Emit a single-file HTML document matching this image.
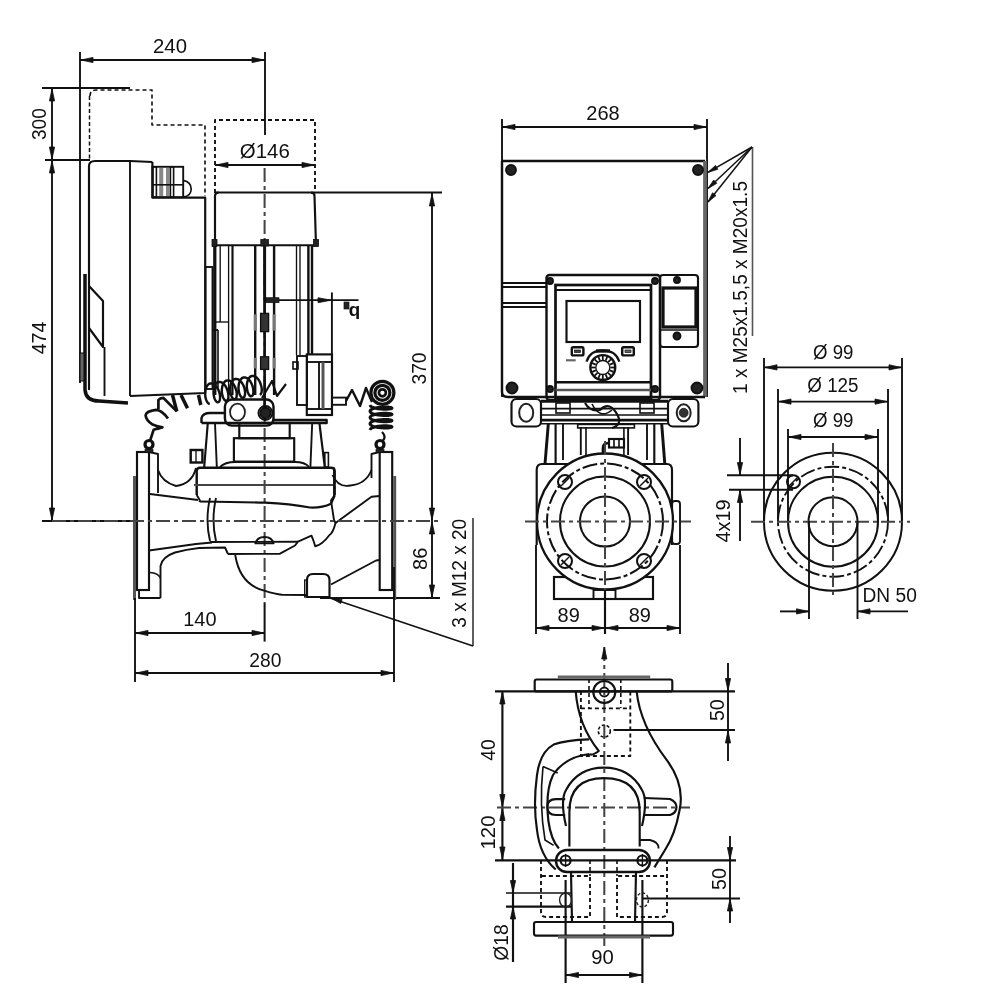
<!DOCTYPE html>
<html><head><meta charset="utf-8"><style>
html,body{margin:0;padding:0;background:#fff;width:1000px;height:1000px;overflow:hidden}
svg{display:block;will-change:transform}
text{font-family:"Liberation Sans",sans-serif}
</style></head><body>
<svg width="1000" height="1000" viewBox="0 0 1000 1000">
<rect width="1000" height="1000" fill="#fff"/>
<line x1="80" y1="52" x2="80" y2="383" stroke="#111" stroke-width="1.89"/>
<line x1="265" y1="52" x2="265" y2="135" stroke="#111" stroke-width="1.89"/>
<line x1="264.6" y1="168" x2="264.6" y2="603" stroke="#444" stroke-width="2.03" stroke-dasharray="14 4 4 4"/>
<line x1="264.6" y1="603" x2="264.6" y2="641.6" stroke="#111" stroke-width="2.03"/>
<line x1="80" y1="60" x2="265" y2="60" stroke="#111" stroke-width="1.89"/>
<polygon points="81.0,60.0 93.0,57.4 93.0,62.6" fill="#111" stroke="#111" stroke-width="0.8"/>
<polygon points="264.0,60.0 252.0,57.4 252.0,62.6" fill="#111" stroke="#111" stroke-width="0.8"/>
<text x="170" y="52.8" font-size="20" text-anchor="middle" fill="#111" textLength="33.9" lengthAdjust="spacingAndGlyphs">240</text>
<line x1="42" y1="88" x2="130" y2="88" stroke="#111" stroke-width="1.89"/>
<line x1="45" y1="160" x2="90" y2="160" stroke="#111" stroke-width="1.89"/>
<line x1="52" y1="88" x2="52" y2="160" stroke="#111" stroke-width="1.89"/>
<polygon points="52.0,89.0 49.4,101.0 54.6,101.0" fill="#111" stroke="#111" stroke-width="0.8"/>
<polygon points="52.0,159.0 49.4,147.0 54.6,147.0" fill="#111" stroke="#111" stroke-width="0.8"/>
<line x1="52" y1="160" x2="52" y2="521" stroke="#111" stroke-width="1.89"/>
<polygon points="52.0,161.0 49.4,173.0 54.6,173.0" fill="#111" stroke="#111" stroke-width="0.8"/>
<polygon points="52.0,520.0 49.4,508.0 54.6,508.0" fill="#111" stroke="#111" stroke-width="0.8"/>
<text x="45.8" y="124.1" font-size="20" text-anchor="middle" fill="#111" transform="rotate(-90 45.8 124.1)" textLength="31.8" lengthAdjust="spacingAndGlyphs">300</text>
<text x="45.8" y="338" font-size="20" text-anchor="middle" fill="#111" transform="rotate(-90 45.8 338)" textLength="32.6" lengthAdjust="spacingAndGlyphs">474</text>
<line x1="42" y1="521" x2="140" y2="521" stroke="#111" stroke-width="1.89"/>
<path d="M90,96 Q90,90 96,90 L152,90 L152,125 L205,125 L205,196" fill="none" stroke="#111" stroke-width="1.62" stroke-dasharray="4 3" stroke-linejoin="round"/>
<line x1="89.5" y1="96" x2="89.5" y2="160" stroke="#111" stroke-width="1.49" stroke-dasharray="4 2.5"/>
<path d="M215,193 L215,120 L315,120 L315,193" fill="none" stroke="#111" stroke-width="1.89" stroke-dasharray="4 3" stroke-linejoin="round"/>
<line x1="215" y1="165" x2="315" y2="165" stroke="#111" stroke-width="1.89"/>
<polygon points="216.0,165.0 228.0,162.4 228.0,167.6" fill="#111" stroke="#111" stroke-width="0.8"/>
<polygon points="314.0,165.0 302.0,162.4 302.0,167.6" fill="#111" stroke="#111" stroke-width="0.8"/>
<text x="264.8" y="158" font-size="20" text-anchor="middle" fill="#111" textLength="50" lengthAdjust="spacingAndGlyphs">&#216;146</text>
<line x1="215" y1="192.5" x2="442" y2="192.5" stroke="#111" stroke-width="1.89"/>
<path d="M215,245.3 L215,196 Q215,192.6 218.5,192.6" fill="none" stroke="#111" stroke-width="2.16" stroke-linejoin="round"/>
<path d="M316,245.3 L314.5,196 Q314.5,192.6 311,192.6" fill="none" stroke="#111" stroke-width="2.16" stroke-linejoin="round"/>
<line x1="215" y1="245.3" x2="315" y2="245.3" stroke="#111" stroke-width="1.89"/>
<rect x="212" y="239.5" width="5" height="7" rx="0" fill="#222" stroke="#111" stroke-width="0.81"/>
<rect x="313.5" y="239.5" width="5" height="7" rx="0" fill="#222" stroke="#111" stroke-width="0.81"/>
<rect x="260.8" y="239.5" width="7.6" height="6.5" rx="0" fill="#222" stroke="#111" stroke-width="0.81"/>
<line x1="214.8" y1="246" x2="214.8" y2="395" stroke="#111" stroke-width="3.24"/>
<line x1="220.2" y1="246" x2="220.2" y2="322" stroke="#111" stroke-width="1.35"/>
<line x1="228.6" y1="246" x2="228.6" y2="395" stroke="#111" stroke-width="1.35"/>
<line x1="232.5" y1="246" x2="232.5" y2="395" stroke="#111" stroke-width="2.16"/>
<line x1="255.2" y1="246" x2="255.2" y2="395" stroke="#111" stroke-width="2.43"/>
<line x1="274.1" y1="246" x2="274.1" y2="395" stroke="#111" stroke-width="2.43"/>
<line x1="296.5" y1="246" x2="296.5" y2="355" stroke="#111" stroke-width="1.35"/>
<line x1="300" y1="246" x2="300" y2="355" stroke="#111" stroke-width="1.35"/>
<line x1="308.4" y1="246" x2="308.4" y2="355" stroke="#111" stroke-width="2.43"/>
<line x1="312" y1="246" x2="312" y2="355" stroke="#111" stroke-width="2.43"/>
<line x1="216" y1="322" x2="229" y2="322" stroke="#111" stroke-width="1.35"/>
<line x1="264.6" y1="246" x2="264.6" y2="300" stroke="#111" stroke-width="2.97"/>
<line x1="264.6" y1="300" x2="264.6" y2="420" stroke="#111" stroke-width="2.70"/>
<rect x="260.6" y="313.4" width="8" height="18.200000000000045" rx="0" fill="#333" stroke="#111" stroke-width="1.35"/>
<rect x="253.7" y="314.4" width="3" height="16.200000000000045" rx="0" fill="#777" stroke="#111" stroke-width="0.00"/>
<rect x="272.6" y="314.4" width="3" height="16.200000000000045" rx="0" fill="#777" stroke="#111" stroke-width="0.00"/>
<rect x="260.6" y="356.8" width="8" height="12.599999999999966" rx="0" fill="#333" stroke="#111" stroke-width="1.35"/>
<rect x="253.7" y="357.8" width="3" height="10.599999999999966" rx="0" fill="#777" stroke="#111" stroke-width="0.00"/>
<rect x="272.6" y="357.8" width="3" height="10.599999999999966" rx="0" fill="#777" stroke="#111" stroke-width="0.00"/>
<rect x="205.5" y="267" width="7" height="122" rx="0" fill="none" stroke="#111" stroke-width="1.89"/>
<line x1="212.5" y1="330" x2="218" y2="330" stroke="#111" stroke-width="1.89"/>
<line x1="218" y1="330" x2="218" y2="389" stroke="#111" stroke-width="1.62"/>
<line x1="265" y1="300.2" x2="358.5" y2="300.2" stroke="#111" stroke-width="1.76"/>
<rect x="266" y="297.7" width="13" height="5" rx="0" fill="#222" stroke="#111" stroke-width="0.68"/>
<polygon points="331.0,300.2 318.0,297.7 318.0,302.7" fill="#111" stroke="#111" stroke-width="0.8"/>
<line x1="331.9" y1="292.4" x2="331.9" y2="415" stroke="#111" stroke-width="1.89"/>
<text x="354.5" y="306" font-size="19" text-anchor="middle" fill="#111" transform="rotate(180 354.5 306)" font-weight="bold">b</text>
<rect x="344" y="302" width="5" height="7" rx="0" fill="#222" stroke="#111" stroke-width="0.68"/>
<line x1="432" y1="193" x2="432" y2="521" stroke="#111" stroke-width="1.89"/>
<polygon points="432.0,194.0 429.4,206.0 434.6,206.0" fill="#111" stroke="#111" stroke-width="0.8"/>
<polygon points="432.0,520.0 429.4,508.0 434.6,508.0" fill="#111" stroke="#111" stroke-width="0.8"/>
<text x="426.3" y="368.5" font-size="20" text-anchor="middle" fill="#111" transform="rotate(-90 426.3 368.5)" textLength="32.1" lengthAdjust="spacingAndGlyphs">370</text>
<line x1="432" y1="521" x2="432" y2="598" stroke="#111" stroke-width="1.89"/>
<polygon points="432.0,522.0 429.4,534.0 434.6,534.0" fill="#111" stroke="#111" stroke-width="0.8"/>
<polygon points="432.0,597.0 429.4,585.0 434.6,585.0" fill="#111" stroke="#111" stroke-width="0.8"/>
<line x1="320" y1="598" x2="440" y2="598" stroke="#111" stroke-width="1.89"/>
<text x="427" y="558.8" font-size="20" text-anchor="middle" fill="#111" transform="rotate(-90 427 558.8)" textLength="22.3" lengthAdjust="spacingAndGlyphs">86</text>
<text x="466.3" y="573.3" font-size="20" text-anchor="middle" fill="#111" transform="rotate(-90 466.3 573.3)" textLength="108.7" lengthAdjust="spacingAndGlyphs">3 x M12 x 20</text>
<line x1="473" y1="518" x2="473" y2="646" stroke="#111" stroke-width="1.35"/>
<line x1="473" y1="646" x2="330" y2="598" stroke="#111" stroke-width="1.62"/>
<polygon points="331.0,598.0 342.1,599.5 340.7,603.5" fill="#111" stroke="#111" stroke-width="0.8"/>
<path d="M89,390 L89,166 Q89,161 95,161 L130,161 L152.4,162" fill="none" stroke="#111" stroke-width="2.16" stroke-linejoin="round"/>
<line x1="130" y1="161" x2="130" y2="396" stroke="#111" stroke-width="1.89"/>
<path d="M152.4,162 L152.4,197.6 L205.2,197.6 L205.2,393 L130,396" fill="none" stroke="#111" stroke-width="2.16" stroke-linejoin="round"/>
<rect x="152.4" y="166.8" width="30.8" height="30.4" rx="0" fill="none" stroke="#111" stroke-width="1.89"/>
<rect x="152.8" y="166.8" width="3.6" height="30.4" rx="0" fill="none" stroke="#111" stroke-width="1.62"/>
<rect x="170.4" y="166.8" width="3.2" height="30.4" rx="0" fill="none" stroke="#111" stroke-width="1.62"/>
<line x1="161.2" y1="168" x2="161.2" y2="196" stroke="#888" stroke-width="4.05"/>
<line x1="168" y1="168" x2="168" y2="196" stroke="#888" stroke-width="4.05"/>
<line x1="152.4" y1="184.8" x2="183.2" y2="184.8" stroke="#111" stroke-width="1.62"/>
<path d="M183.2,180.4 Q191.2,182 191.2,189 Q191.2,196 183.2,197" fill="none" stroke="#111" stroke-width="1.62" stroke-linejoin="round"/>
<path d="M85,274 L85,390 Q86,401 99,401 L128,403" fill="none" stroke="#111" stroke-width="3.51" stroke-linejoin="round"/>
<path d="M89,286 L103,301 L103,347 L89,328" fill="none" stroke="#111" stroke-width="2.16" stroke-linejoin="round"/>
<line x1="104.5" y1="347" x2="104.5" y2="396" stroke="#111" stroke-width="1.89"/>
<line x1="89" y1="328" x2="89" y2="390" stroke="#111" stroke-width="1.62"/>
<rect x="80" y="353" width="4" height="28" rx="0" fill="#666" stroke="#111" stroke-width="1.08"/>
<rect x="306.8" y="354.4" width="25.2" height="60.6" rx="0" fill="none" stroke="#111" stroke-width="2.16"/>
<line x1="306.8" y1="362" x2="332" y2="362" stroke="#111" stroke-width="1.89"/>
<line x1="306.8" y1="409" x2="332" y2="409" stroke="#111" stroke-width="1.89"/>
<line x1="319" y1="362" x2="319" y2="409" stroke="#111" stroke-width="1.89"/>
<line x1="323" y1="362" x2="323" y2="409" stroke="#555" stroke-width="2.97"/>
<rect x="297" y="356" width="10" height="49" rx="0" fill="none" stroke="#111" stroke-width="1.89"/>
<rect x="293" y="362" width="5" height="7" rx="0" fill="none" stroke="#111" stroke-width="1.62"/>
<rect x="332" y="397.6" width="14" height="7.2" rx="0" fill="none" stroke="#111" stroke-width="1.89"/>
<path d="M201.5,423 L201.5,418 Q203,413 210,413 L225,413 M273.5,420 L326.6,420 L326.6,423 L201.5,423" fill="none" stroke="#111" stroke-width="2.43" stroke-linejoin="round"/>
<rect x="224.9" y="399.5" width="48.6" height="26.1" rx="7" fill="none" stroke="#111" stroke-width="2.43"/>
<ellipse cx="237.5" cy="412.1" rx="7.5" ry="8.5" fill="none" stroke="#222" stroke-width="1.8"/>
<circle cx="265.4" cy="413" r="7" fill="none" stroke="#111" stroke-width="1.89"/>
<circle cx="265.4" cy="413" r="5.2" fill="#222" stroke="#111" stroke-width="1.89"/>
<line x1="207.8" y1="423" x2="204.2" y2="467" stroke="#111" stroke-width="2.16"/>
<line x1="215" y1="423" x2="216.8" y2="467" stroke="#111" stroke-width="1.89"/>
<line x1="312.2" y1="423" x2="310.4" y2="467" stroke="#111" stroke-width="1.89"/>
<line x1="319.4" y1="423" x2="324.8" y2="467" stroke="#111" stroke-width="2.16"/>
<rect x="239.3" y="423" width="50.4" height="15.2" rx="0" fill="none" stroke="#111" stroke-width="2.16"/>
<rect x="233.9" y="438.2" width="60.3" height="23.4" rx="0" fill="none" stroke="#111" stroke-width="2.16"/>
<path d="M220,467 Q225,462 235,462 L295,462 Q305,462 309,467" fill="none" stroke="#111" stroke-width="1.89" stroke-linejoin="round"/>
<rect x="190.7" y="450" width="11.7" height="12.5" rx="0" fill="none" stroke="#111" stroke-width="2.43"/>
<line x1="196" y1="450" x2="196" y2="462" stroke="#111" stroke-width="1.35"/>
<rect x="324.8" y="452.6" width="3.6" height="14.4" rx="0" fill="none" stroke="#111" stroke-width="1.62"/>
<path d="M196.7,495 L196.7,471 Q196.7,467.7 200,467.7 L331,467.7 Q334.7,467.7 334.7,471 L334.7,495.5" fill="none" stroke="#111" stroke-width="2.43" stroke-linejoin="round"/>
<path d="M196.7,495 L199.7,500 L199.7,502" fill="none" stroke="#111" stroke-width="1.89" stroke-linejoin="round"/>
<line x1="194" y1="485" x2="336" y2="485" stroke="#444" stroke-width="1.89"/>
<path d="M210,498 Q205,520 210,541" fill="none" stroke="#111" stroke-width="1.89" stroke-linejoin="round"/>
<path d="M216,498 Q211,520 216,541" fill="none" stroke="#111" stroke-width="1.89" stroke-linejoin="round"/>
<path d="M199.7,501.5 Q240,502 265,502.7 Q290,504 310,507.5 Q322,508 331,503.7 L334.7,495.5" fill="none" stroke="#111" stroke-width="2.16" stroke-linejoin="round"/>
<path d="M210,542 L298,541.7" fill="none" stroke="#111" stroke-width="1.89" stroke-linejoin="round"/>
<rect x="137" y="452" width="12" height="138" rx="0" fill="none" stroke="#111" stroke-width="2.16"/>
<line x1="134.5" y1="476" x2="134.5" y2="600" stroke="#555" stroke-width="2.97"/>
<path d="M149,452 L158,454 L158,493" fill="none" stroke="#111" stroke-width="1.89" stroke-linejoin="round"/>
<line x1="149" y1="493" x2="149" y2="590" stroke="#111" stroke-width="1.89"/>
<path d="M139,589.5 L139,598 L160.5,598" fill="none" stroke="#111" stroke-width="1.89" stroke-linejoin="round"/>
<path d="M158,470 Q162,482 176,486 Q192,484 196,468" fill="none" stroke="#111" stroke-width="1.89" stroke-linejoin="round"/>
<path d="M150,494 L198,500" fill="none" stroke="#111" stroke-width="1.89" stroke-linejoin="round"/>
<path d="M149,550.5 L196,544 L212,542.5" fill="none" stroke="#111" stroke-width="1.89" stroke-linejoin="round"/>
<path d="M160.5,598 L160.5,566 Q162,557 175,552.5 Q186,549.5 199,548 L225,547.5 L228,554" fill="none" stroke="#111" stroke-width="1.89" stroke-linejoin="round"/>
<path d="M235.2,555 Q240,585 265,590.9 Q275,594 282,594.8 L307,595" fill="none" stroke="#111" stroke-width="1.89" stroke-linejoin="round"/>
<path d="M150,572.5 Q158,573 160.5,578" fill="none" stroke="#111" stroke-width="1.62" stroke-linejoin="round"/>
<rect x="379.7" y="452" width="12.5" height="138" rx="0" fill="none" stroke="#111" stroke-width="2.16"/>
<line x1="394.7" y1="476" x2="394.7" y2="600" stroke="#555" stroke-width="2.97"/>
<path d="M379.7,452 L371.5,454 L371.5,478" fill="none" stroke="#111" stroke-width="1.89" stroke-linejoin="round"/>
<path d="M332.5,475 Q338,488 350.5,485.5 Q366,484 371.5,470" fill="none" stroke="#111" stroke-width="1.89" stroke-linejoin="round"/>
<path d="M335.5,523 L371.5,496.7 L379.7,496" fill="none" stroke="#111" stroke-width="1.89" stroke-linejoin="round"/>
<path d="M331,584.5 L376,560.5 L379.7,560" fill="none" stroke="#111" stroke-width="1.89" stroke-linejoin="round"/>
<path d="M334,467.5 L334,496 L331,500.5 L334,520 L335.5,523 Q333,533 329.5,535 Q322,545 315.2,546.2 L313.8,541.7 L311.5,535.7 L298,541.7 L295,545.5 L280,553.7 L228,554" fill="none" stroke="#111" stroke-width="1.89" stroke-linejoin="round"/>
<line x1="135" y1="598" x2="135" y2="682" stroke="#111" stroke-width="1.89"/>
<line x1="394" y1="567" x2="394" y2="682" stroke="#111" stroke-width="1.89"/>
<line x1="135" y1="633" x2="265" y2="633" stroke="#111" stroke-width="1.89"/>
<polygon points="136.0,633.0 148.0,630.4 148.0,635.6" fill="#111" stroke="#111" stroke-width="0.8"/>
<polygon points="264.0,633.0 252.0,630.4 252.0,635.6" fill="#111" stroke="#111" stroke-width="0.8"/>
<text x="199.9" y="626.4" font-size="20" text-anchor="middle" fill="#111" textLength="33.3" lengthAdjust="spacingAndGlyphs">140</text>
<line x1="135" y1="673" x2="394" y2="673" stroke="#111" stroke-width="1.89"/>
<polygon points="136.0,673.0 148.0,670.4 148.0,675.6" fill="#111" stroke="#111" stroke-width="0.8"/>
<polygon points="393.0,673.0 381.0,670.4 381.0,675.6" fill="#111" stroke="#111" stroke-width="0.8"/>
<text x="265.3" y="666.6" font-size="20" text-anchor="middle" fill="#111" textLength="32.1" lengthAdjust="spacingAndGlyphs">280</text>
<path d="M307,597 L307,580 Q307,574 313,574 L323,574 Q329.5,574 329.5,580 L329.5,597 Z" fill="none" stroke="#111" stroke-width="2.16" stroke-linejoin="round"/>
<rect x="304.7" y="580" width="2.3" height="17" rx="0" fill="none" stroke="#111" stroke-width="1.35"/>
<line x1="52" y1="521" x2="440" y2="521" stroke="#444" stroke-width="2.03" stroke-dasharray="14 4 4 4"/>
<path d="M255.4,543.4 Q257,537 264.5,537 Q272,537 273.6,543.4 Z" fill="none" stroke="#111" stroke-width="1.89" stroke-linejoin="round"/>
<path d="M149.2,443.4 L153.6,429.8 Q160,428 162.4,427.4 Q156,426 152,424.2 Q146,420 145.6,415.4 Q146,411 156,409.8 Q162,410 168,418.6" fill="none" stroke="#111" stroke-width="2.70" stroke-linejoin="round"/>
<path d="M158.4,409 L158.4,400 Q160,397.8 163.2,397.8 L176.8,411.4" fill="none" stroke="#111" stroke-width="2.70" stroke-linejoin="round"/>
<line x1="172.5" y1="395" x2="176.8" y2="411.4" stroke="#111" stroke-width="3.51"/>
<line x1="181" y1="395" x2="187.5" y2="408.2" stroke="#111" stroke-width="3.51"/>
<line x1="198.5" y1="395" x2="200.8" y2="405" stroke="#111" stroke-width="3.51"/>
<circle cx="149" cy="444.5" r="4" fill="#fff" stroke="#111" stroke-width="3.24"/>
<rect x="145" y="449.5" width="8" height="3" rx="0" fill="#222" stroke="#111" stroke-width="0.68"/>
<polyline points="209.8,403.8 208.8,403.7 207.8,402.8 206.8,401.4 206.0,399.4 205.4,397.1 205.2,394.5 205.2,391.9 205.6,389.3 206.4,387.1 207.5,385.3 208.8,384.0 210.4,383.4 212.1,383.5 213.8,384.2 215.4,385.5 216.9,387.3 218.2,389.5 219.2,392.0 219.8,394.5 220.1,396.9 220.0,399.0 219.6,400.7 219.0,401.8 218.1,402.3 217.1,402.2 216.1,401.3 215.1,399.9 214.3,397.9 213.8,395.6 213.5,393.0 213.6,390.4 214.0,387.8 214.7,385.6 215.8,383.8 217.2,382.5 218.7,381.9 220.4,382.0 222.1,382.7 223.8,384.0 225.3,385.8 226.5,388.0 227.5,390.5 228.1,393.0 228.4,395.4 228.4,397.5 228.0,399.2 227.3,400.3 226.4,400.8 225.5,400.7 224.4,399.8 223.5,398.4 222.7,396.4 222.1,394.1 221.8,391.5 221.9,388.9 222.3,386.3 223.1,384.1 224.1,382.3 225.5,381.0 227.1,380.4 228.7,380.5 230.5,381.2 232.1,382.5 233.6,384.3 234.9,386.5 235.8,389.0 236.5,391.5 236.8,393.9 236.7,396.0 236.3,397.7 235.6,398.8 234.8,399.3 233.8,399.2 232.8,398.3 231.8,396.9 231.0,394.9 230.4,392.6 230.2,390.0 230.2,387.4 230.6,384.8 231.4,382.6 232.5,380.8 233.8,379.5 235.4,378.9 237.1,379.0 238.8,379.7 240.4,381.0 241.9,382.8 243.2,385.0 244.2,387.5 244.8,390.0 245.1,392.4 245.0,394.5 244.6,396.2 244.0,397.3 243.1,397.8 242.1,397.7 241.1,396.8 240.1,395.4 239.3,393.4 238.8,391.1 238.5,388.5 238.6,385.9 239.0,383.3 239.7,381.1 240.8,379.3 242.2,378.0 243.7,377.4 245.4,377.5 247.1,378.2 248.8,379.5 250.3,381.3 251.5,383.5 252.5,386.0 253.1,388.5 253.4,390.9 253.4,393.0 253.0,394.7 252.3,395.8 251.4,396.3 250.5,396.2 249.4,395.3 248.5,393.9 247.7,391.9 247.1,389.6 246.8,387.0 246.9,384.4 247.3,381.8 248.1,379.6 249.1,377.8 250.5,376.5 252.1,375.9 253.7,376.0 255.5,376.7 257.1,378.0 258.6,379.8 259.9,382.0 260.8,384.5 261.5,387.0 261.8,389.4 261.7,391.5 261.3,393.2 260.6,394.3 259.8,394.8" fill="none" stroke="#111" stroke-width="2.43" stroke-linejoin="round"/>
<path d="M262,398 L272,381 L277,396 L286,384" fill="none" stroke="#111" stroke-width="2.16" stroke-linejoin="round"/>
<path d="M346,401 L352,390 L360,406 L366,388 L372,402" fill="none" stroke="#111" stroke-width="2.43" stroke-linejoin="round"/>
<circle cx="382.4" cy="392.8" r="11.5" fill="none" stroke="#111" stroke-width="3.24"/>
<circle cx="382.4" cy="392.8" r="7.5" fill="none" stroke="#111" stroke-width="3.24"/>
<circle cx="382.4" cy="392.8" r="3.5" fill="#fff" stroke="#111" stroke-width="2.70"/>
<polyline points="370.0,405.0 370.4,405.9 371.5,406.8 373.2,407.5 375.5,408.2 378.2,408.7 381.0,409.1 383.8,409.2 386.5,409.2 388.8,409.1 390.5,408.9 391.6,408.5 392.0,408.1 391.6,407.7 390.5,407.4 388.8,407.1 386.5,407.0 383.8,407.0 381.0,407.2 378.2,407.5 375.5,408.0 373.2,408.7 371.5,409.5 370.4,410.3 370.0,411.2 370.4,412.2 371.5,413.0 373.2,413.8 375.5,414.5 378.2,415.0 381.0,415.3 383.8,415.5 386.5,415.5 388.8,415.4 390.5,415.1 391.6,414.8 392.0,414.4 391.6,414.0 390.5,413.6 388.8,413.4 386.5,413.3 383.8,413.3 381.0,413.4 378.2,413.8 375.5,414.3 373.2,415.0 371.5,415.7 370.4,416.6 370.0,417.5 370.4,418.4 371.5,419.3 373.2,420.0 375.5,420.7 378.2,421.2 381.0,421.6 383.8,421.7 386.5,421.7 388.8,421.6 390.5,421.4 391.6,421.0 392.0,420.6 391.6,420.2 390.5,419.9 388.8,419.6 386.5,419.5 383.8,419.5 381.0,419.7 378.2,420.0 375.5,420.5 373.2,421.2 371.5,422.0 370.4,422.8 370.0,423.8 370.4,424.7 371.5,425.5 373.2,426.3 375.5,427.0 378.2,427.5 381.0,427.8 383.8,428.0 386.5,428.0 388.8,427.9 390.5,427.6 391.6,427.3 392.0,426.9 391.6,426.5 390.5,426.1 388.8,425.9 386.5,425.8 383.8,425.8 381.0,425.9 378.2,426.3 375.5,426.8 373.2,427.5 371.5,428.2 370.4,429.1 370.0,430.0" fill="none" stroke="#111" stroke-width="2.97" stroke-linejoin="round"/>
<path d="M382,432 Q388,438 380,443" fill="none" stroke="#111" stroke-width="2.16" stroke-linejoin="round"/>
<circle cx="380" cy="444.5" r="4" fill="#fff" stroke="#111" stroke-width="3.24"/>
<rect x="376" y="449.5" width="8" height="3" rx="0" fill="#222" stroke="#111" stroke-width="0.68"/>
<line x1="502" y1="119" x2="502" y2="397" stroke="#111" stroke-width="1.89"/>
<line x1="707" y1="119" x2="707" y2="397" stroke="#111" stroke-width="1.89"/>
<line x1="502" y1="127" x2="707" y2="127" stroke="#111" stroke-width="1.89"/>
<polygon points="503.0,127.0 515.0,124.4 515.0,129.6" fill="#111" stroke="#111" stroke-width="0.8"/>
<polygon points="706.0,127.0 694.0,124.4 694.0,129.6" fill="#111" stroke="#111" stroke-width="0.8"/>
<text x="603" y="119.8" font-size="20" text-anchor="middle" fill="#111" textLength="33.4" lengthAdjust="spacingAndGlyphs">268</text>
<line x1="502" y1="161" x2="705" y2="161" stroke="#111" stroke-width="2.70"/>
<line x1="705" y1="161" x2="705" y2="397" stroke="#666" stroke-width="3.78"/>
<path d="M502,161 L502,392 Q502,397 508,397 L705,397" fill="none" stroke="#111" stroke-width="2.43" stroke-linejoin="round"/>
<circle cx="511" cy="170" r="5" fill="#222" stroke="#111" stroke-width="1.89"/>
<circle cx="698" cy="170" r="5" fill="#222" stroke="#111" stroke-width="1.89"/>
<circle cx="512" cy="388" r="5.5" fill="#222" stroke="#111" stroke-width="1.89"/>
<circle cx="697" cy="388" r="5.5" fill="#222" stroke="#111" stroke-width="1.89"/>
<line x1="752.5" y1="147" x2="752.5" y2="336" stroke="#555" stroke-width="1.62"/>
<line x1="752" y1="147" x2="708" y2="172.3" stroke="#111" stroke-width="1.49"/>
<polygon points="708.0,172.3 715.5,165.4 717.8,169.3" fill="#111" stroke="#111" stroke-width="0.8"/>
<line x1="752" y1="147" x2="708" y2="188.5" stroke="#111" stroke-width="1.49"/>
<polygon points="708.0,188.5 713.7,180.0 716.8,183.3" fill="#111" stroke="#111" stroke-width="0.8"/>
<line x1="752" y1="147" x2="708" y2="202" stroke="#111" stroke-width="1.49"/>
<polygon points="708.0,202.0 712.5,192.8 716.0,195.6" fill="#111" stroke="#111" stroke-width="0.8"/>
<text x="747" y="287.5" font-size="20" text-anchor="middle" fill="#111" transform="rotate(-90 747 287.5)" textLength="213.0" lengthAdjust="spacingAndGlyphs">1 x M25x1.5,5 x M20x1.5</text>
<line x1="502" y1="283" x2="546" y2="283" stroke="#111" stroke-width="1.89"/>
<line x1="502" y1="287" x2="546" y2="287" stroke="#111" stroke-width="1.89"/>
<line x1="502" y1="303" x2="546" y2="303" stroke="#111" stroke-width="1.89"/>
<line x1="502" y1="307" x2="546" y2="307" stroke="#111" stroke-width="1.89"/>
<rect x="546.5" y="275" width="113.5" height="125" rx="3" fill="none" stroke="#111" stroke-width="2.43"/>
<rect x="555.5" y="285" width="95.5" height="114" rx="0" fill="none" stroke="#111" stroke-width="2.70"/>
<line x1="555.5" y1="290" x2="651" y2="290" stroke="#111" stroke-width="1.89"/>
<line x1="555.5" y1="382.3" x2="651" y2="382.3" stroke="#111" stroke-width="2.43"/>
<line x1="555.5" y1="390" x2="651" y2="390" stroke="#555" stroke-width="2.43"/>
<circle cx="550" cy="281" r="3" fill="#222" stroke="#111" stroke-width="1.89"/>
<circle cx="655" cy="281" r="3" fill="#222" stroke="#111" stroke-width="1.89"/>
<circle cx="550" cy="389" r="3" fill="#222" stroke="#111" stroke-width="1.89"/>
<circle cx="655" cy="389" r="3" fill="#222" stroke="#111" stroke-width="1.89"/>
<rect x="566.5" y="301" width="73.5" height="41" rx="0" fill="none" stroke="#111" stroke-width="2.16"/>
<rect x="571.8" y="347.2" width="11.6" height="8.2" rx="1.5" fill="none" stroke="#111" stroke-width="2.43"/>
<rect x="574.5" y="350" width="6" height="2.6" rx="0" fill="#444" stroke="#111" stroke-width="0.68"/>
<rect x="622.2" y="347.2" width="11.6" height="8.2" rx="1.5" fill="none" stroke="#111" stroke-width="2.43"/>
<rect x="625" y="350" width="6" height="2.6" rx="0" fill="#666" stroke="#111" stroke-width="0.68"/>
<line x1="566" y1="360.3" x2="575.7" y2="360.3" stroke="#666" stroke-width="2.16"/>
<circle cx="602.8" cy="367.5" r="12.4" fill="none" stroke="#111" stroke-width="2.43"/>
<circle cx="602.8" cy="367.5" r="7" fill="none" stroke="#111" stroke-width="1.35"/>
<line x1="610.3" y1="367.5" x2="614.3" y2="367.5" stroke="#111" stroke-width="1.76"/>
<line x1="609.7290964938346" y1="370.3701257427382" x2="613.4246146238797" y2="371.90085947219853" stroke="#111" stroke-width="1.76"/>
<line x1="608.103300858899" y1="372.8033008588991" x2="610.9317279836453" y2="375.6317279836453" stroke="#111" stroke-width="1.76"/>
<line x1="605.6701257427382" y1="374.42909649383466" x2="607.2008594721985" y2="378.1246146238798" stroke="#111" stroke-width="1.76"/>
<line x1="602.8" y1="375.0" x2="602.8" y2="379.0" stroke="#111" stroke-width="1.76"/>
<line x1="599.9298742572618" y1="374.42909649383466" x2="598.3991405278015" y2="378.1246146238798" stroke="#111" stroke-width="1.76"/>
<line x1="597.4966991411009" y1="372.8033008588991" x2="594.6682720163546" y2="375.6317279836453" stroke="#111" stroke-width="1.76"/>
<line x1="595.8709035061653" y1="370.3701257427382" x2="592.1753853761202" y2="371.90085947219853" stroke="#111" stroke-width="1.76"/>
<line x1="595.3" y1="367.5" x2="591.3" y2="367.5" stroke="#111" stroke-width="1.76"/>
<line x1="595.8709035061653" y1="364.6298742572618" x2="592.1753853761202" y2="363.09914052780147" stroke="#111" stroke-width="1.76"/>
<line x1="597.4966991411009" y1="362.1966991411009" x2="594.6682720163546" y2="359.3682720163547" stroke="#111" stroke-width="1.76"/>
<line x1="599.9298742572618" y1="360.57090350616534" x2="598.3991405278014" y2="356.8753853761202" stroke="#111" stroke-width="1.76"/>
<line x1="602.8" y1="360.0" x2="602.8" y2="356.0" stroke="#111" stroke-width="1.76"/>
<line x1="605.6701257427382" y1="360.57090350616534" x2="607.2008594721985" y2="356.8753853761202" stroke="#111" stroke-width="1.76"/>
<line x1="608.103300858899" y1="362.1966991411009" x2="610.9317279836453" y2="359.3682720163547" stroke="#111" stroke-width="1.76"/>
<line x1="609.7290964938346" y1="364.6298742572618" x2="613.4246146238797" y2="363.09914052780147" stroke="#111" stroke-width="1.76"/>
<path d="M586.5,361.6 Q590,350.4 602.8,350.4 Q615.6,350.4 619.4,361.6" fill="none" stroke="#111" stroke-width="2.16" stroke-linejoin="round"/>
<line x1="596" y1="351" x2="610" y2="351" stroke="#111" stroke-width="3.38"/>
<rect x="660" y="275" width="38" height="72" rx="3" fill="none" stroke="#111" stroke-width="2.16"/>
<rect x="663" y="288" width="33" height="39" rx="0" fill="none" stroke="#111" stroke-width="3.24"/>
<circle cx="677" cy="280" r="3" fill="#222" stroke="#111" stroke-width="1.89"/>
<circle cx="677" cy="336" r="3.5" fill="#222" stroke="#111" stroke-width="1.89"/>
<line x1="660" y1="330" x2="698" y2="330" stroke="#111" stroke-width="1.62"/>
<line x1="541" y1="401.3" x2="668" y2="401.3" stroke="#111" stroke-width="2.97"/>
<line x1="541" y1="408.6" x2="668" y2="408.6" stroke="#111" stroke-width="1.62"/>
<line x1="541" y1="415" x2="668" y2="415" stroke="#111" stroke-width="1.62"/>
<line x1="541" y1="420.2" x2="668" y2="420.2" stroke="#111" stroke-width="2.70"/>
<line x1="541" y1="423.8" x2="668" y2="423.8" stroke="#111" stroke-width="1.62"/>
<rect x="511.5" y="399" width="29.5" height="27.5" rx="5" fill="none" stroke="#111" stroke-width="2.16"/>
<ellipse cx="526.2" cy="412.8" rx="7" ry="9" fill="none" stroke="#222" stroke-width="2"/>
<rect x="668" y="399" width="30.4" height="27.5" rx="5" fill="none" stroke="#111" stroke-width="2.16"/>
<ellipse cx="683.7" cy="412.8" rx="7" ry="8.5" fill="none" stroke="#222" stroke-width="2"/>
<circle cx="683.7" cy="412.8" r="4.5" fill="#333" stroke="#111" stroke-width="0.68"/>
<rect x="556" y="403" width="14" height="10" rx="0" fill="none" stroke="#111" stroke-width="1.62"/>
<rect x="640" y="403" width="14" height="10" rx="0" fill="none" stroke="#111" stroke-width="1.62"/>
<path d="M585,403 Q590,412 600,410 Q610,400 618,416 Q622,425 612,428" fill="none" stroke="#111" stroke-width="2.16" stroke-linejoin="round"/>
<path d="M592,404 Q600,420 612,410" fill="none" stroke="#111" stroke-width="1.62" stroke-linejoin="round"/>
<line x1="548.3" y1="424" x2="545" y2="464" stroke="#111" stroke-width="2.97"/>
<line x1="555.6" y1="424" x2="555.6" y2="464" stroke="#111" stroke-width="2.16"/>
<line x1="563" y1="424" x2="563" y2="460" stroke="#111" stroke-width="1.89"/>
<line x1="647" y1="424" x2="647" y2="460" stroke="#111" stroke-width="1.89"/>
<line x1="654.3" y1="424" x2="654.3" y2="464" stroke="#111" stroke-width="2.16"/>
<line x1="661.7" y1="424" x2="664.8" y2="464" stroke="#111" stroke-width="2.97"/>
<rect x="577.7" y="424.4" width="56.7" height="3.5" rx="0" fill="none" stroke="#111" stroke-width="1.62"/>
<line x1="580.8" y1="427" x2="580.8" y2="455" stroke="#111" stroke-width="1.89"/>
<line x1="586" y1="427" x2="586" y2="455" stroke="#111" stroke-width="1.62"/>
<line x1="623.9" y1="427" x2="623.9" y2="455" stroke="#111" stroke-width="1.62"/>
<line x1="628.1" y1="427" x2="628.1" y2="455" stroke="#111" stroke-width="1.89"/>
<path d="M603,455 L603,448 Q603,443 609,443" fill="none" stroke="#111" stroke-width="2.70" stroke-linejoin="round"/>
<rect x="609" y="439" width="15" height="8.5" rx="0" fill="none" stroke="#111" stroke-width="2.16"/>
<line x1="614" y1="439" x2="614" y2="447.5" stroke="#111" stroke-width="1.62"/>
<line x1="619" y1="439" x2="619" y2="447.5" stroke="#111" stroke-width="1.62"/>
<path d="M536.7,545 L536.7,470 Q536.7,464 542,464 L667,464 Q672,464 672,470 L672,545" fill="none" stroke="#111" stroke-width="2.16" stroke-linejoin="round"/>
<rect x="672" y="501" width="8" height="43" rx="3" fill="none" stroke="#111" stroke-width="1.89"/>
<rect x="554" y="577" width="99" height="22" rx="0" fill="none" stroke="#111" stroke-width="2.16"/>
<rect x="593.5" y="590" width="22" height="9" rx="0" fill="none" stroke="#111" stroke-width="1.89"/>
<line x1="605" y1="590" x2="605" y2="634" stroke="#111" stroke-width="2.16"/>
<circle cx="605" cy="521.5" r="68" fill="#fff" stroke="#111" stroke-width="2.29"/>
<circle cx="605" cy="521.5" r="58" fill="none" stroke="#111" stroke-width="2.03" stroke-dasharray="15 3 4 3"/>
<circle cx="605" cy="521.5" r="45" fill="none" stroke="#111" stroke-width="2.03"/>
<circle cx="605" cy="521.5" r="25" fill="none" stroke="#111" stroke-width="2.03"/>
<circle cx="565" cy="482" r="7" fill="none" stroke="#111" stroke-width="2.03"/>
<line x1="561" y1="486" x2="569" y2="478" stroke="#111" stroke-width="1.35"/>
<circle cx="644" cy="482" r="7" fill="none" stroke="#111" stroke-width="2.03"/>
<line x1="640" y1="486" x2="648" y2="478" stroke="#111" stroke-width="1.35"/>
<circle cx="565" cy="561" r="7" fill="none" stroke="#111" stroke-width="2.03"/>
<line x1="561" y1="565" x2="569" y2="557" stroke="#111" stroke-width="1.35"/>
<circle cx="644" cy="561" r="7" fill="none" stroke="#111" stroke-width="2.03"/>
<line x1="640" y1="565" x2="648" y2="557" stroke="#111" stroke-width="1.35"/>
<line x1="525" y1="521.5" x2="691" y2="521.5" stroke="#444" stroke-width="2.03" stroke-dasharray="14 4 4 4"/>
<line x1="605" y1="441" x2="605" y2="590" stroke="#444" stroke-width="2.03" stroke-dasharray="14 4 4 4"/>
<line x1="536" y1="545" x2="536" y2="634" stroke="#111" stroke-width="1.89"/>
<line x1="680" y1="545" x2="680" y2="634" stroke="#111" stroke-width="1.89"/>
<line x1="536" y1="628" x2="680" y2="628" stroke="#111" stroke-width="1.89"/>
<polygon points="537.0,628.0 549.0,625.4 549.0,630.6" fill="#111" stroke="#111" stroke-width="0.8"/>
<polygon points="604.0,628.0 592.0,625.4 592.0,630.6" fill="#111" stroke="#111" stroke-width="0.8"/>
<polygon points="606.0,628.0 618.0,625.4 618.0,630.6" fill="#111" stroke="#111" stroke-width="0.8"/>
<polygon points="679.0,628.0 667.0,625.4 667.0,630.6" fill="#111" stroke="#111" stroke-width="0.8"/>
<text x="568.7" y="622.3" font-size="20" text-anchor="middle" fill="#111" textLength="22.2" lengthAdjust="spacingAndGlyphs">89</text>
<text x="639.8" y="622.3" font-size="20" text-anchor="middle" fill="#111" textLength="22.2" lengthAdjust="spacingAndGlyphs">89</text>
<circle cx="833" cy="521.7" r="69" fill="none" stroke="#111" stroke-width="2.03"/>
<circle cx="833" cy="521.7" r="55" fill="none" stroke="#111" stroke-width="1.89" stroke-dasharray="15 3 4 3"/>
<circle cx="833" cy="521.7" r="45" fill="none" stroke="#111" stroke-width="2.03"/>
<circle cx="833" cy="521.7" r="24.5" fill="none" stroke="#111" stroke-width="2.03"/>
<circle cx="793.5" cy="481.7" r="6.5" fill="none" stroke="#111" stroke-width="2.03"/>
<line x1="789" y1="486" x2="798" y2="477" stroke="#111" stroke-width="1.35"/>
<line x1="751" y1="521.7" x2="910" y2="521.7" stroke="#444" stroke-width="2.03" stroke-dasharray="14 4 4 4"/>
<line x1="833" y1="443" x2="833" y2="599" stroke="#444" stroke-width="2.03" stroke-dasharray="14 4 4 4"/>
<line x1="764" y1="358" x2="764" y2="521" stroke="#111" stroke-width="1.89"/>
<line x1="902" y1="358" x2="902" y2="521" stroke="#111" stroke-width="1.89"/>
<line x1="764" y1="367.4" x2="902" y2="367.4" stroke="#111" stroke-width="1.89"/>
<polygon points="765.0,367.4 777.0,364.8 777.0,370.0" fill="#111" stroke="#111" stroke-width="0.8"/>
<polygon points="901.0,367.4 889.0,364.8 889.0,370.0" fill="#111" stroke="#111" stroke-width="0.8"/>
<text x="833.2" y="358.7" font-size="20" text-anchor="middle" fill="#111" textLength="40.5" lengthAdjust="spacingAndGlyphs">&#216; 99</text>
<line x1="778" y1="389" x2="778" y2="521" stroke="#111" stroke-width="1.89"/>
<line x1="888" y1="389" x2="888" y2="521" stroke="#111" stroke-width="1.89"/>
<line x1="778" y1="401.6" x2="888" y2="401.6" stroke="#111" stroke-width="1.89"/>
<polygon points="779.0,401.6 791.0,399.0 791.0,404.2" fill="#111" stroke="#111" stroke-width="0.8"/>
<polygon points="887.0,401.6 875.0,399.0 875.0,404.2" fill="#111" stroke="#111" stroke-width="0.8"/>
<text x="832.9" y="391.7" font-size="20" text-anchor="middle" fill="#111" textLength="51.2" lengthAdjust="spacingAndGlyphs">&#216; 125</text>
<line x1="788" y1="429" x2="788" y2="521" stroke="#111" stroke-width="1.89"/>
<line x1="878" y1="429" x2="878" y2="521" stroke="#111" stroke-width="1.89"/>
<line x1="788" y1="437" x2="878" y2="437" stroke="#111" stroke-width="1.89"/>
<polygon points="789.0,437.0 801.0,434.4 801.0,439.6" fill="#111" stroke="#111" stroke-width="0.8"/>
<polygon points="877.0,437.0 865.0,434.4 865.0,439.6" fill="#111" stroke="#111" stroke-width="0.8"/>
<text x="833.2" y="426.9" font-size="20" text-anchor="middle" fill="#111" textLength="40.5" lengthAdjust="spacingAndGlyphs">&#216; 99</text>
<line x1="727" y1="475.3" x2="793" y2="475.3" stroke="#111" stroke-width="1.89"/>
<line x1="729" y1="489.7" x2="793" y2="489.7" stroke="#111" stroke-width="1.89"/>
<line x1="740" y1="438" x2="740" y2="475" stroke="#111" stroke-width="1.89"/>
<polygon points="740.0,474.5 737.4,462.5 742.6,462.5" fill="#111" stroke="#111" stroke-width="0.8"/>
<line x1="740" y1="490" x2="740" y2="541" stroke="#111" stroke-width="1.89"/>
<polygon points="740.0,490.5 737.4,502.5 742.6,502.5" fill="#111" stroke="#111" stroke-width="0.8"/>
<text x="729.9" y="521" font-size="20" text-anchor="middle" fill="#111" transform="rotate(-90 729.9 521)" textLength="43.2" lengthAdjust="spacingAndGlyphs">4x19</text>
<line x1="809" y1="521" x2="809" y2="619" stroke="#111" stroke-width="1.89"/>
<line x1="857.5" y1="521" x2="857.5" y2="619" stroke="#111" stroke-width="1.89"/>
<line x1="780" y1="611.4" x2="809" y2="611.4" stroke="#111" stroke-width="1.89"/>
<polygon points="808.5,611.4 796.5,608.8 796.5,614.0" fill="#111" stroke="#111" stroke-width="0.8"/>
<line x1="908" y1="611.4" x2="857.5" y2="611.4" stroke="#111" stroke-width="1.89"/>
<polygon points="858.0,611.4 870.0,608.8 870.0,614.0" fill="#111" stroke="#111" stroke-width="0.8"/>
<text x="862.5" y="601.8" font-size="20" text-anchor="start" fill="#111" textLength="54.3" lengthAdjust="spacingAndGlyphs">DN 50</text>
<line x1="604.3" y1="647" x2="604.3" y2="946" stroke="#444" stroke-width="2.03" stroke-dasharray="14 4 4 4"/>
<polygon points="604.3,647.0 601.7,659.0 606.9,659.0" fill="#111" stroke="#111" stroke-width="0.8"/>
<rect x="534.7" y="679.5" width="137.6" height="11.9" rx="2" fill="none" stroke="#111" stroke-width="2.16"/>
<line x1="557.8" y1="677" x2="650.2" y2="677" stroke="#666" stroke-width="3.24"/>
<line x1="495" y1="691.4" x2="735" y2="691.4" stroke="#111" stroke-width="2.16"/>
<circle cx="604.3" cy="692" r="11" fill="none" stroke="#111" stroke-width="2.16"/>
<circle cx="604.3" cy="692" r="4.5" fill="none" stroke="#111" stroke-width="1.89"/>
<path d="M580.9,691 L580.9,756 L630.3,756 L630.3,691" fill="none" stroke="#111" stroke-width="1.89" stroke-dasharray="4 3" stroke-linejoin="round"/>
<line x1="580.9" y1="708.4" x2="630.3" y2="708.4" stroke="#111" stroke-width="1.89" stroke-dasharray="4 3"/>
<line x1="620.8" y1="679" x2="620.8" y2="708" stroke="#111" stroke-width="1.62" stroke-dasharray="4 3"/>
<line x1="589" y1="679" x2="589" y2="708" stroke="#111" stroke-width="1.62" stroke-dasharray="4 3"/>
<circle cx="604.3" cy="731" r="6" fill="none" stroke="#111" stroke-width="1.62" stroke-dasharray="3 2"/>
<line x1="613.5" y1="730" x2="735" y2="730" stroke="#111" stroke-width="1.89"/>
<line x1="502.4" y1="691" x2="502.4" y2="860" stroke="#111" stroke-width="2.16"/>
<polygon points="502.4,692.0 499.8,704.0 505.0,704.0" fill="#111" stroke="#111" stroke-width="0.8"/>
<polygon points="502.4,806.5 499.8,794.5 505.0,794.5" fill="#111" stroke="#111" stroke-width="0.8"/>
<polygon points="502.4,808.5 499.8,820.5 505.0,820.5" fill="#111" stroke="#111" stroke-width="0.8"/>
<polygon points="502.4,859.0 499.8,847.0 505.0,847.0" fill="#111" stroke="#111" stroke-width="0.8"/>
<text x="495" y="750" font-size="20" text-anchor="middle" fill="#111" transform="rotate(-90 495 750)" textLength="21.5" lengthAdjust="spacingAndGlyphs">40</text>
<text x="495" y="832.5" font-size="20" text-anchor="middle" fill="#111" transform="rotate(-90 495 832.5)" textLength="34.0" lengthAdjust="spacingAndGlyphs">120</text>
<line x1="497" y1="807.6" x2="690" y2="807.6" stroke="#444" stroke-width="2.03" stroke-dasharray="14 4 4 4"/>
<line x1="495" y1="860.3" x2="736" y2="860.3" stroke="#111" stroke-width="2.16"/>
<line x1="728" y1="663" x2="728" y2="761" stroke="#111" stroke-width="1.89"/>
<polygon points="728.0,690.5 725.4,678.5 730.6,678.5" fill="#111" stroke="#111" stroke-width="0.8"/>
<polygon points="728.0,731.0 725.4,743.0 730.6,743.0" fill="#111" stroke="#111" stroke-width="0.8"/>
<text x="723.6" y="710.2" font-size="20" text-anchor="middle" fill="#111" transform="rotate(-90 723.6 710.2)" textLength="21.8" lengthAdjust="spacingAndGlyphs">50</text>
<line x1="730" y1="836" x2="730" y2="923" stroke="#111" stroke-width="1.89"/>
<polygon points="730.0,859.5 727.4,847.5 732.6,847.5" fill="#111" stroke="#111" stroke-width="0.8"/>
<polygon points="730.0,899.0 727.4,911.0 732.6,911.0" fill="#111" stroke="#111" stroke-width="0.8"/>
<line x1="643" y1="898.5" x2="740" y2="898.5" stroke="#111" stroke-width="1.89"/>
<text x="726" y="879" font-size="20" text-anchor="middle" fill="#111" transform="rotate(-90 726 879)" textLength="21.8" lengthAdjust="spacingAndGlyphs">50</text>
<line x1="513" y1="863" x2="513" y2="962" stroke="#111" stroke-width="2.16"/>
<polygon points="513.0,892.5 510.4,880.5 515.6,880.5" fill="#111" stroke="#111" stroke-width="0.8"/>
<polygon points="513.0,907.0 510.4,919.0 515.6,919.0" fill="#111" stroke="#111" stroke-width="0.8"/>
<line x1="506" y1="893" x2="571" y2="893" stroke="#111" stroke-width="1.62"/>
<line x1="506" y1="906.6" x2="571" y2="906.6" stroke="#111" stroke-width="2.43"/>
<text x="508" y="942.5" font-size="20" text-anchor="middle" fill="#111" transform="rotate(-90 508 942.5)" textLength="36.5" lengthAdjust="spacingAndGlyphs">&#216;18</text>
<line x1="565.6" y1="880" x2="565.6" y2="983" stroke="#111" stroke-width="2.16"/>
<line x1="642.4" y1="880" x2="642.4" y2="983" stroke="#111" stroke-width="2.16"/>
<line x1="565.6" y1="975" x2="642.4" y2="975" stroke="#111" stroke-width="1.89"/>
<polygon points="566.5,975.0 578.5,972.4 578.5,977.6" fill="#111" stroke="#111" stroke-width="0.8"/>
<polygon points="641.5,975.0 629.5,972.4 629.5,977.6" fill="#111" stroke="#111" stroke-width="0.8"/>
<text x="602.5" y="964" font-size="20" text-anchor="middle" fill="#111" textLength="22.5" lengthAdjust="spacingAndGlyphs">90</text>
<rect x="534" y="922" width="139" height="13.6" rx="2" fill="none" stroke="#111" stroke-width="2.16"/>
<line x1="558" y1="937" x2="650" y2="937" stroke="#666" stroke-width="3.24"/>
<path d="M541,860 L541,912 Q541,917 546,917 L590,917 L590,876 L541,876" fill="none" stroke="#111" stroke-width="1.89" stroke-dasharray="4 3" stroke-linejoin="round"/>
<path d="M667,860 L667,912 Q667,917 662,917 L617,917 L617,876 L667,876" fill="none" stroke="#111" stroke-width="1.89" stroke-dasharray="4 3" stroke-linejoin="round"/>
<line x1="590" y1="860" x2="590" y2="876" stroke="#111" stroke-width="1.62" stroke-dasharray="4 3"/>
<line x1="617" y1="860" x2="617" y2="876" stroke="#111" stroke-width="1.62" stroke-dasharray="4 3"/>
<line x1="571" y1="872" x2="572" y2="922" stroke="#111" stroke-width="2.16"/>
<line x1="636" y1="872" x2="635" y2="922" stroke="#111" stroke-width="2.16"/>
<ellipse cx="565.6" cy="900" rx="6" ry="7" fill="none" stroke="#222" stroke-width="1.4"/>
<ellipse cx="642.4" cy="900" rx="6" ry="7" fill="none" stroke="#222" stroke-width="1.4" stroke-dasharray="3 2"/>
<rect x="556" y="850" width="94" height="22" rx="11" fill="none" stroke="#111" stroke-width="2.43"/>
<circle cx="565.6" cy="860.5" r="5" fill="none" stroke="#111" stroke-width="2.16"/>
<line x1="559.6" y1="860.5" x2="571.6" y2="860.5" stroke="#111" stroke-width="1.35"/>
<line x1="565.6" y1="854" x2="565.6" y2="867" stroke="#111" stroke-width="1.35"/>
<circle cx="642.4" cy="860.5" r="5" fill="none" stroke="#111" stroke-width="2.16"/>
<line x1="636.4" y1="860.5" x2="648.4" y2="860.5" stroke="#111" stroke-width="1.35"/>
<line x1="642.4" y1="854" x2="642.4" y2="867" stroke="#111" stroke-width="1.35"/>
<path d="M575.7,691 Q578,725 598.8,751 Q592,756 589.3,754" fill="none" stroke="#111" stroke-width="2.16" stroke-linejoin="round"/>
<path d="M589.3,754 Q565,757 553,775 Q545,792 548.4,821 Q551,840 558.9,848.5" fill="none" stroke="#111" stroke-width="2.16" stroke-linejoin="round"/>
<path d="M589.3,739.3 Q565,740 553.6,744.6 Q540,752 537,775 Q533,805 537,830 Q540,856 555.7,869.5" fill="none" stroke="#111" stroke-width="2.16" stroke-linejoin="round"/>
<path d="M543,766.6 L557.8,772.9 M543,766.6 Q539,805 545,840 L553.6,845.4" fill="none" stroke="#111" stroke-width="1.62" stroke-linejoin="round"/>
<path d="M636.6,691 Q640,725 667,760.3 Q685,785 679.6,810 Q675,835 665,850 L654.4,867.4" fill="none" stroke="#111" stroke-width="2.16" stroke-linejoin="round"/>
<path d="M569.4,846.4 L569.4,812 Q569.4,778.2 604,778.2 Q639.7,778.2 639.7,812 L639.7,846.4" fill="none" stroke="#111" stroke-width="2.16" stroke-linejoin="round"/>
<path d="M566,826 Q560,800 566,790 Q578,767.7 604,767.7 Q630,767.7 642,790 Q648,800 642,826" fill="none" stroke="#111" stroke-width="2.16" stroke-linejoin="round"/>
<path d="M565.2,799.2 L556,799.2 Q547.3,799.2 547.3,807 Q547.3,815 556,815 L565.2,815" fill="none" stroke="#111" stroke-width="2.16" stroke-linejoin="round"/>
<path d="M643.9,798 L670,799 Q676.5,802 676.5,807 Q676.5,813 670,815 L643.9,815" fill="none" stroke="#111" stroke-width="2.16" stroke-linejoin="round"/>
<path d="M639.7,840 L650,840 Q659,842 658.6,848.5" fill="none" stroke="#111" stroke-width="1.89" stroke-linejoin="round"/>
</svg></body></html>
